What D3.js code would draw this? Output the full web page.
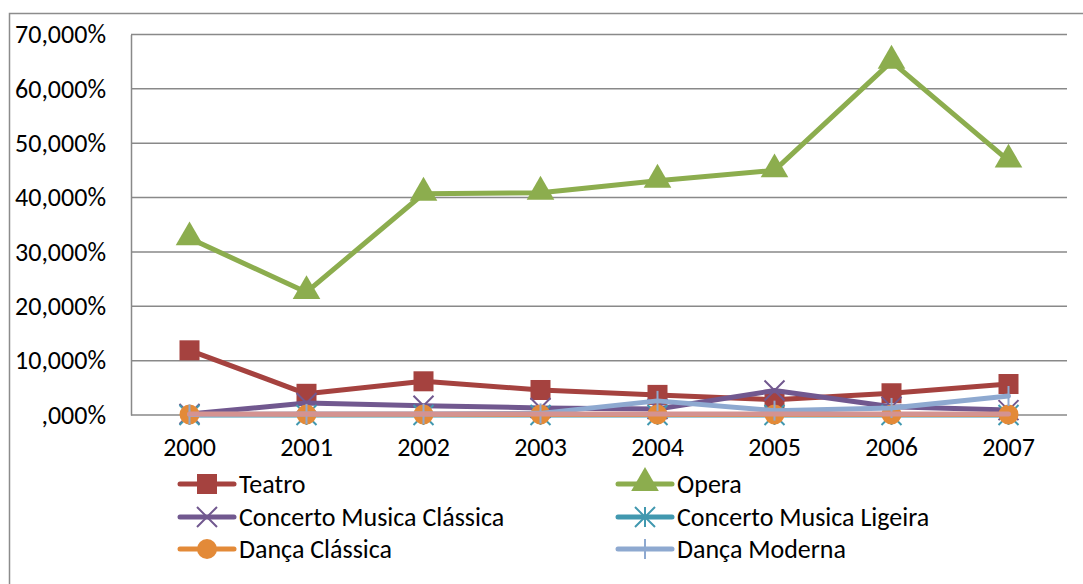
<!DOCTYPE html>
<html>
<head>
<meta charset="utf-8">
<script src="https://cdn.jsdelivr.net/npm/d3@7"></script>
<style>
  html, body { margin: 0; padding: 0; background: #fff; }
  svg { display: block; font-family: Carlito, Calibri, Lato, "Noto Sans", sans-serif; }
</style>
</head>
<body>
<svg id="chart" width="1083" height="584"></svg>
<script>
// Years on the category axis
const years = ["2000", "2001", "2002", "2003", "2004", "2005", "2006", "2007"];

// Share of attendance per show type (%)
const teatro = [11.9, 3.9, 6.2, 4.6, 3.7, 2.8, 4.0, 5.7];
const opera = [32.5, 22.6, 40.7, 40.9, 43.1, 45.0, 65.0, 46.8];
const concertoClassica = [0.2, 2.2, 1.7, 1.3, 1.1, 4.5, 1.5, 0.9];
const concertoLigeira = [0.0, 0.0, 0.0, 0.0, 0.0, 0.0, 0.0, 0.0];
const dancaClassica = [0.1, 0.1, 0.1, 0.1, 0.1, 0.1, 0.1, 0.1];
const dancaModerna = [0.1, 0.2, 0.2, 0.3, 2.6, 0.8, 1.3, 3.5];
const outros = [0.2, 0.2, 0.2, 0.2, 0.2, 0.2, 0.2, 0.2];

const yTicks = [0, 10, 20, 30, 40, 50, 60, 70];

const series = [
  { name: "Teatro", values: teatro, color: "#A5423F", marker: "square", legend: [0, 0] },
  { name: "Opera", values: opera, color: "#8CAD4E", marker: "triangle", legend: [1, 0] },
  { name: "Concerto Musica Clássica", values: concertoClassica, color: "#71588F", marker: "x", legend: [0, 1] },
  { name: "Concerto Musica Ligeira", values: concertoLigeira, color: "#4198AF", marker: "star", legend: [1, 1] },
  { name: "Dança Clássica", values: dancaClassica, color: "#E38A38", marker: "circle", legend: [0, 2] },
  { name: "Dança Moderna", values: dancaModerna, color: "#8EA9D0", marker: "plus", legend: [1, 2] },
  { name: "Outros", values: outros, color: "#D49391", marker: "none", legend: null }
];

const FONT = 26;
const svg = d3.select("#chart");
const plot = { left: 131, right: 1067, top: 34.5, bottom: 415 };

const x = d3.scaleBand().domain(years).range([plot.left, plot.right]);
const y = d3.scaleLinear().domain([0, 70]).range([plot.bottom, plot.top]);
const cx = d => x(d) + x.bandwidth() / 2;

// Outer chart frame (cropped on the right and bottom)
svg.append("path")
  .attr("d", "M9.5,590 V13.5 H1090")
  .attr("fill", "none").attr("stroke", "#8c8c8c").attr("stroke-width", 1.5);

// Horizontal gridlines
svg.append("g")
  .selectAll("line").data(yTicks).join("line")
  .attr("x1", plot.left).attr("x2", plot.right)
  .attr("y1", d => y(d)).attr("y2", d => y(d))
  .attr("stroke", "#898989").attr("stroke-width", 1.5);

// Value axis
const fmtPct = d => (d === 0 ? "" : String(d)) + ",000%";
const yAxis = svg.append("g")
  .attr("transform", `translate(${plot.left},0)`)
  .call(d3.axisLeft(y).tickValues(yTicks).tickFormat(fmtPct).tickSize(0).tickPadding(25));
yAxis.select(".domain").attr("stroke", "#898989").attr("stroke-width", 1.5);
yAxis.selectAll("text").attr("font-size", FONT).attr("fill", "#000")
  .attr("font-family", "Carlito, Calibri, Lato, sans-serif");

// Category axis
const xAxis = svg.append("g")
  .attr("transform", `translate(0,${plot.bottom})`)
  .call(d3.axisBottom(x).tickSize(0).tickPadding(23));
xAxis.select(".domain").remove();
xAxis.selectAll("text").attr("font-size", FONT).attr("fill", "#000")
  .attr("font-family", "Carlito, Calibri, Lato, sans-serif");

// Marker shapes
function drawMarker(g, type, color) {
  const s = 10;
  if (type === "square") {
    g.append("rect").attr("x", -s).attr("y", -s).attr("width", 2 * s).attr("height", 2 * s)
      .attr("fill", color);
  } else if (type === "triangle") {
    g.append("path").attr("d", d3.symbol(d3.symbolTriangle, 330)()).attr("fill", color)
      .attr("transform", "translate(0,-1)");
  } else if (type === "circle") {
    g.append("circle").attr("r", s).attr("fill", color);
  } else if (type === "x") {
    g.append("path").attr("d", `M${-s},${-s}L${s},${s}M${-s},${s}L${s},${-s}`)
      .attr("stroke", color).attr("stroke-width", 2);
  } else if (type === "star") {
    g.append("path").attr("d", `M${-s},${-s}L${s},${s}M${-s},${s}L${s},${-s}M0,${-s}V${s}`)
      .attr("stroke", color).attr("stroke-width", 2);
  } else if (type === "plus") {
    g.append("path").attr("d", `M0,${-s}V${s}`)
      .attr("stroke", color).attr("stroke-width", 2);
  }
}

const line = d3.line().x((d, i) => cx(years[i])).y(d => y(d));

// Series lines with markers
series.forEach(sr => {
  const g = svg.append("g");
  g.append("path").datum(sr.values).attr("d", line)
    .attr("fill", "none").attr("stroke", sr.color).attr("stroke-width", 5)
    .attr("stroke-linejoin", "round").attr("stroke-linecap", "round");
  g.selectAll("g.m").data(sr.values).join("g").attr("class", "m")
    .attr("transform", (d, i) => `translate(${cx(years[i])},${y(d)})`)
    .each(function () { drawMarker(d3.select(this), sr.marker, sr.color); });
});

// Legend
const legCols = [180, 618];
const legRows = [484, 517, 549];
series.filter(sr => sr.legend).forEach(sr => {
  const lx = legCols[sr.legend[0]], ly = legRows[sr.legend[1]];
  const g = svg.append("g").attr("transform", `translate(${lx},${ly})`);
  g.append("line").attr("x1", 0).attr("x2", 54).attr("y1", 0).attr("y2", 0)
    .attr("stroke", sr.color).attr("stroke-width", 5).attr("stroke-linecap", "round");
  const m = g.append("g").attr("transform", "translate(27,0)");
  drawMarker(m, sr.marker, sr.color);
  g.append("text").attr("x", 59).attr("y", 0).attr("dy", "0.35em")
    .attr("font-size", FONT).attr("fill", "#000").text(sr.name);
});
</script>
</body>
</html>
